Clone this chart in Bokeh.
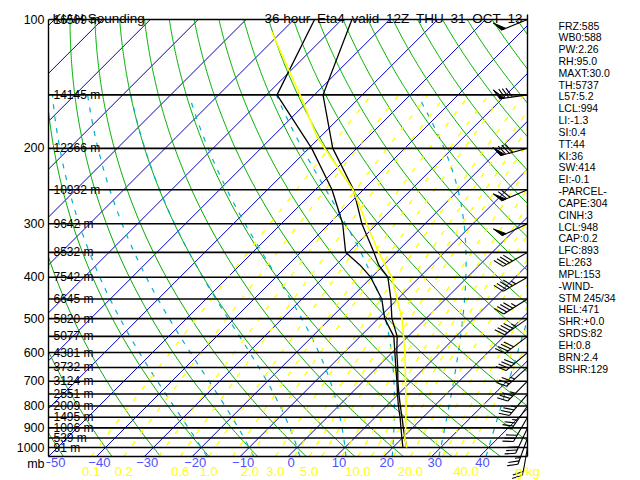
import numpy as np
from bokeh.plotting import figure
from bokeh.models import Range1d, FixedTicker
from bokeh.core.properties import value
from bokeh.embed import file_html
from bokeh.resources import INLINE

# ---------------- data ----------------
LEVELS = [100, 150, 200, 250, 300, 350, 400, 450, 500, 550, 600, 650, 700, 750, 800, 850, 900, 950, 1000]
HEIGHTS_M = [16509, 14145, 12366, 10932, 9642, 8532, 7542, 6645, 5820, 5077, 4381, 3732, 3124, 2551, 2009,
             1495, 1006, 539, 91]
PRESSURE_TICKS = [100, 200, 300, 400, 500, 600, 700, 800, 900, 1000]

SND_P = [1000, 950, 900, 850, 800, 750, 700, 650, 600, 550, 500, 450, 400, 375, 350, 300, 250, 200, 150, 100]
SND_T = [22.9, 20.5, 18.1, 15.6, 12.9, 10.1, 7.2, 4.3, 1.0, -2.3, -7.1, -11.4, -16.6, -21.0, -24.7, -33.2,
         -42.0, -55.0, -68.2, -77.9]
SND_TD = [22.1, 19.9, 17.6, 15.2, 12.5, 9.8, 7.0, 3.9, 0.6, -3.0, -8.6, -13.3, -20.2, -24.9, -30.6, -37.2,
          -46.5, -59.4, -77.8, -85.7]

PCL_P = [1000, 950, 900, 850, 800, 700, 600, 500, 400, 350, 300, 250, 189, 150, 107]
PCL_T = [22.9, 20.5, 18.6, 16.4, 14.1, 8.8, 2.7, -5.0, -15.8, -23.7, -32.2, -42.1, -60.4, -73.0, -92.0]

WIND_P = LEVELS
WIND_DIR = [248, 262, 255, 247, 245, 240, 240, 238, 235, 233, 230, 228, 225, 220, 215, 210, 205, 200, 190]
WIND_KT = [50, 80, 80, 70, 50, 40, 45, 45, 45, 40, 40, 35, 35, 35, 35, 30, 30, 25, 20]

TEMP_TICKS = [-50, -40, -30, -20, -10, 0, 10, 20, 30, 40]
MIXR_LABELS = [0.1, 0.2, 0.6, 1.0, 2.0, 3.0, 5.0, 10.0, 20.0, 40.0]
MIXR_LINES = [0.1, 0.2, 0.4, 0.6, 1.0, 1.5, 2.0, 3.0, 4.0, 5.0, 6.0, 8.0, 10.0, 12.0, 14.0, 16.0, 20.0,
              25.0, 30.0, 35.0, 40.0]
ISOTHERMS = list(range(-150, 51, 10))
DRY_THETA = list(range(-50, 181, 10))
MOIST_THW = [-20, -10, 0, 10, 20, 30, 40]

STATS = ["FRZ:585", "WB0:588", "PW:2.26", "RH:95.0", "MAXT:30.0", "TH:5737", "L57:5.2", "LCL:994",
         "LI:-1.3", "SI:0.4", "TT:44", "KI:36", "SW:414", "EI:-0.1", "-PARCEL-", "CAPE:304", "CINH:3",
         "LCL:948", "CAP:0.2", "LFC:893", "EL:263", "MPL:153", "-WIND-", "STM 245/34", "HEL:471",
         "SHR:+0.0", "SRDS:82", "EH:0.8", "BRN:2.4", "BSHR:129"]
TITLE_LEFT = "KIAH Sounding"
TITLE_RIGHT = "36 hour\u2002Eta4\u2002valid\u200212Z\u2002THU\u200231\u2002OCT\u200213"

# ---------------- geometry of the skew-T (pixel scale of the reference) ----------------
PX_PER_C = 4.79
PX_PER_DEC = 428.0
SKEW = PX_PER_DEC / PX_PER_C
P_BASE = 1050.0
P_TOP = 100.0
X_MIN, X_MAX = -50.0, 50.0
FONT = "Liberation Sans"


def p_at(ypix):
    return 100.0 * 10 ** ((ypix - 19) / PX_PER_DEC)


def X_at(xpix):
    return -50.0 + (xpix - 48) / PX_PER_C


def skew(T, p):
    return np.asarray(T, float) + SKEW * np.log10(P_BASE / np.asarray(p, float))


def clip_poly(xs, ps, pmin=P_TOP, pmax=P_BASE):
    u = np.asarray(xs, float)
    v = np.log10(np.asarray(ps, float))
    vmin, vmax = np.log10(pmin), np.log10(pmax)
    out, cur = [], []
    for i in range(len(u) - 1):
        x0, y0, x1, y1 = u[i], v[i], u[i + 1], v[i + 1]
        dx, dy = x1 - x0, y1 - y0
        t0, t1, ok = 0.0, 1.0, True
        for pp, qq in ((-dx, x0 - X_MIN), (dx, X_MAX - x0), (-dy, y0 - vmin), (dy, vmax - y0)):
            if pp == 0:
                if qq < 0:
                    ok = False
                    break
            else:
                r = qq / pp
                if pp < 0:
                    if r > t1:
                        ok = False
                        break
                    t0 = max(t0, r)
                else:
                    if r < t0:
                        ok = False
                        break
                    t1 = min(t1, r)
        if not ok:
            if cur:
                out.append(cur)
                cur = []
            continue
        a = (x0 + t0 * dx, y0 + t0 * dy)
        b = (x0 + t1 * dx, y0 + t1 * dy)
        if not cur:
            cur = [a]
        elif t0 > 0:
            out.append(cur)
            cur = [a]
        cur.append(b)
        if t1 < 1:
            out.append(cur)
            cur = []
    if cur:
        out.append(cur)
    return [([q[0] for q in c], [10 ** q[1] for q in c]) for c in out if len(c) > 1]


def add_lines(store, xs, ps, **kw):
    for cx, cp in clip_poly(xs, ps, **kw):
        store[0].append(cx)
        store[1].append(cp)


# thermodynamics for the background reference curves
Rd, Cp, Lv, EPS = 287.04, 1005.7, 2.501e6, 0.622


def es(Tc):
    return 6.112 * np.exp(17.67 * Tc / (Tc + 243.5))


def moist_rate(T, p):
    e = es(T - 273.15)
    rs = EPS * e / (p - e)
    return (Rd * T + Lv * rs) / (Cp + Lv * Lv * rs * EPS / (Rd * T * T)) / p


def moist_path(T0c, ps):
    T = T0c + 273.15
    out = [T]
    for i in range(len(ps) - 1):
        p0, h = ps[i], ps[i + 1] - ps[i]
        k1 = moist_rate(T, p0)
        k2 = moist_rate(T + 0.5 * h * k1, p0 + 0.5 * h)
        k3 = moist_rate(T + 0.5 * h * k2, p0 + 0.5 * h)
        k4 = moist_rate(T + h * k3, p0 + h)
        T = T + h * (k1 + 2 * k2 + 2 * k3 + k4) / 6.0
        out.append(T)
    return np.array(out) - 273.15


def mixr_td(w, p):
    e = (w / 1000.0) * p / (EPS + w / 1000.0)
    lg = np.log(e / 6.112)
    return 243.5 * lg / (17.67 - lg)


# ---------------- figure ----------------
W, H = 640, 480
LEFT = 46
p = figure(width=W, height=H, x_range=Range1d(X_at(LEFT), X_at(W)),
           y_range=Range1d(p_at(H), p_at(0)), y_axis_type="log",
           output_backend="svg", toolbar_location=None, x_axis_location=None,
           title_location=None, min_border_left=LEFT, min_border_right=0,
           min_border_top=0, min_border_bottom=0)
p.outline_line_color = None
p.grid.visible = False
p.background_fill_color = "white"
p.border_fill_color = "white"

ax = p.yaxis[0]
mb_pos = round(p_at(463))
ax.ticker = FixedTicker(ticks=PRESSURE_TICKS + [mb_pos])
ov = {t: str(t) for t in PRESSURE_TICKS}
ov[mb_pos] = "mb"
ax.major_label_overrides = ov
ax.axis_line_color = None
ax.major_tick_line_color = None
ax.minor_tick_line_color = None
ax.major_tick_out = 0
ax.major_tick_in = 0
ax.major_label_standoff = 2
ax.major_label_text_font = FONT
ax.major_label_text_font_size = "12.5px"
ax.major_label_text_color = "black"

# isotherms
iso = ([], [])
for T in ISOTHERMS:
    pp = np.array([P_BASE, P_TOP])
    add_lines(iso, skew([T, T], pp), pp)
p.multi_line(iso[0], iso[1], line_color="#0000C0", line_width=1)

# dry adiabats
dry = ([], [])
pg = np.geomspace(P_BASE, P_TOP, 220)
for th in DRY_THETA:
    Tc = (th + 273.15) * (pg / 1000.0) ** (Rd / Cp) - 273.15
    add_lines(dry, skew(Tc, pg), pg)
p.multi_line(dry[0], dry[1], line_color="#00AA00", line_width=1)

# moist adiabats
mst = ([], [])
p_up = np.geomspace(1000.0, 150.0, 160)
p_dn = np.linspace(1000.0, P_BASE, 6)
for tw in MOIST_THW:
    up = moist_path(tw, p_up)
    dn = moist_path(tw, p_dn)
    pp = np.concatenate([p_dn[::-1], p_up[1:]])
    tt = np.concatenate([dn[::-1], up[1:]])
    add_lines(mst, skew(tt, pp), pp)
p.multi_line(mst[0], mst[1], line_color="#00AFC8", line_width=1.2, line_dash="5 7")

# mixing ratio lines
mix = ([], [])
pm = np.geomspace(P_BASE, 150.0, 60)
for w in MIXR_LINES:
    add_lines(mix, skew(mixr_td(w, pm), pm), pm)
p.multi_line(mix[0], mix[1], line_color="#FFFF00", line_width=1.4, line_dash="5 9")

# pressure lines and frame
p.segment(x0=[X_MIN] * (len(LEVELS) + 1), x1=[X_MAX] * (len(LEVELS) + 1),
          y0=LEVELS + [P_BASE], y1=LEVELS + [P_BASE], line_color="black", line_width=1.6)
p.segment(x0=[X_MIN, X_MAX], x1=[X_MIN, X_MAX], y0=[P_TOP, p_at(14)], y1=[P_BASE, P_BASE],
          line_color="black", line_width=1.4)

# sounding
p.line(skew(SND_TD, SND_P), SND_P, line_color="black", line_width=1.3)
p.line(skew(SND_T, SND_P), SND_P, line_color="black", line_width=1.3)
p.line(skew(PCL_T, PCL_P), PCL_P, line_color="#FFFF00", line_width=1.6)

# wind barbs (built as pixel offsets from the right edge of the diagram)
seg_x, seg_y, tri_x, tri_y = [], [], [], []
L_STAFF, L_BARB, GAP = 28.0, 11.0, 3.6


def to_data(p0, dx, dy):
    return X_MAX + dx / PX_PER_C, p0 * 10 ** (dy / PX_PER_DEC)


for p0, d, s in zip(WIND_P, WIND_DIR, WIND_KT):
    sx, sy = np.sin(np.radians(d)), -np.cos(np.radians(d))
    bx, by = np.sin(np.radians(d + 62)), -np.cos(np.radians(d + 62))
    ex, ey = L_STAFF * sx, L_STAFF * sy
    a, b = to_data(p0, 0, 0)
    c, e = to_data(p0, ex, ey)
    seg_x.append([a, c])
    seg_y.append([b, e])
    s5 = int(round(s / 5.0)) * 5
    n50, rem = divmod(s5, 50)
    n10, n5 = divmod(rem, 10)
    pos = 0.0
    for _ in range(n50):
        ax0, ay0 = ex - pos * sx, ey - pos * sy
        ax1, ay1 = ex - (pos + 4.5) * sx, ey - (pos + 4.5) * sy
        tx, ty = ax0 + L_BARB * bx, ay0 + L_BARB * by
        pts = [to_data(p0, ax0, ay0), to_data(p0, tx, ty), to_data(p0, ax1, ay1)]
        tri_x.append([q[0] for q in pts])
        tri_y.append([q[1] for q in pts])
        pos += 5.5
    for _ in range(n10):
        ax0, ay0 = ex - pos * sx, ey - pos * sy
        q0 = to_data(p0, ax0, ay0)
        q1 = to_data(p0, ax0 + L_BARB * bx, ay0 + L_BARB * by)
        seg_x.append([q0[0], q1[0]])
        seg_y.append([q0[1], q1[1]])
        pos += GAP
    if n5:
        if n50 == 0 and n10 == 0:
            pos += GAP
        ax0, ay0 = ex - pos * sx, ey - pos * sy
        q0 = to_data(p0, ax0, ay0)
        q1 = to_data(p0, ax0 + 0.5 * L_BARB * bx, ay0 + 0.5 * L_BARB * by)
        seg_x.append([q0[0], q1[0]])
        seg_y.append([q0[1], q1[1]])

p.multi_line(seg_x, seg_y, line_color="black", line_width=1.1)
p.patches(tri_x, tri_y, fill_color="black", line_color="black", line_width=1)

# height labels
p.text(x=[X_at(53)] * len(LEVELS), y=LEVELS, text=[f"{h} m" for h in HEIGHTS_M],
       text_font=value(FONT), text_font_size="12px", text_baseline="middle",
       text_align="left", text_color="black")

# temperature labels along the bottom (first one sits right after "mb")
tlab = [str(t).replace("-", "\u2212") for t in TEMP_TICKS]
p.text(x=TEMP_TICKS[:1], y=[p_at(462)], text=tlab[:1], x_offset=-5,
       text_font=value(FONT), text_font_size="13px", text_baseline="middle",
       text_align="left", text_color="#4F4FFF")
p.text(x=TEMP_TICKS[1:], y=[p_at(462)] * (len(TEMP_TICKS) - 1), text=tlab[1:], x_offset=3,
       text_font=value(FONT), text_font_size="13px", text_baseline="middle",
       text_align="center", text_color="#4F4FFF")

# mixing-ratio labels along the bottom
mx_x = list(skew(mixr_td(np.array(MIXR_LABELS), P_BASE), P_BASE)) + [X_MAX]
mx_t = [f"{w:.1f}" for w in MIXR_LABELS] + ["g/kg"]
p.text(x=mx_x, y=[p_at(471)] * len(mx_x), text=mx_t,
       text_font=value(FONT), text_font_size="13px", text_baseline="middle",
       text_align="center", text_color="#FFFF00")

# titles
p.text(x=[X_at(52), X_at(264)], y=[p_at(18), p_at(18)], text=[TITLE_LEFT, TITLE_RIGHT],
       text_font=value(FONT), text_font_size="13.5px", text_baseline="alphabetic",
       text_align="left", text_color="black")

# stats panel
p.text(x=[X_at(558)] * len(STATS), y=[p_at(25 + 11.83 * i) for i in range(len(STATS))], text=STATS,
       text_font=value(FONT), text_font_size="10.5px", text_baseline="middle",
       text_align="left", text_color="black")

open("out.html", "w").write(file_html(p, INLINE))
